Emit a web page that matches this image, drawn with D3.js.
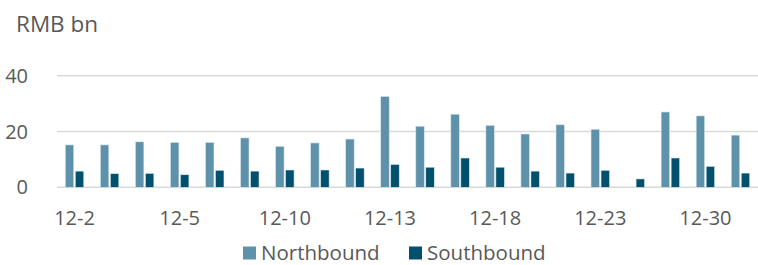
<!DOCTYPE html>
<html>
<head>
<meta charset="utf-8">
<script src="https://cdn.jsdelivr.net/npm/d3@7"></script>
<style>
  body { margin: 0; background: #fff; }
  text { font-family: "Open Sans", sans-serif; fill: #595959; }
</style>
</head>
<body>
<script>
// trading days in December
var days = ["12-2", "12-3", "12-4", "12-5", "12-6", "12-9", "12-10", "12-11", "12-12", "12-13",
            "12-16", "12-17", "12-18", "12-19", "12-20", "12-23", "12-24", "12-27", "12-30", "12-31"];
// RMB bn
var northbound = [15.2, 15.2, 16.3, 16.1, 16.1, 17.7, 14.7, 15.9, 17.3, 32.6,
                  21.9, 26.2, 22.2, 19.1, 22.4, 20.8, null, 27.0, 25.6, 18.7];
var southbound = [5.8, 4.9, 5.0, 4.5, 6.1, 5.8, 6.2, 6.2, 6.9, 8.2,
                  7.2, 10.5, 7.2, 5.8, 5.1, 6.1, 3.0, 10.5, 7.5, 5.1];
var yTicks = [0, 20, 40];
var shownLabels = ["12-2", "12-5", "12-10", "12-13", "12-18", "12-23", "12-30"];
var seriesNames = ["Northbound", "Southbound"];
var colors = ["#5E92AA", "#00506E"];

var w = 758, h = 265;

var svg = d3.select("body").append("svg")
    .attr("width", w)
    .attr("height", h);

var x = d3.scaleBand()
    .domain(days)
    .range([57, 758])
    .paddingInner(0)
    .paddingOuter(0);

var y = d3.scaleLinear()
    .domain([0, 40])
    .range([187.3, 75.7]);

// gridlines
svg.selectAll(".grid")
    .data(yTicks)
    .enter()
    .append("line")
    .attr("class", "grid")
    .attr("x1", 57)
    .attr("x2", 758)
    .attr("y1", function(d){ return y(d); })
    .attr("y2", function(d){ return y(d); })
    .style("stroke", "#D9D9D9")
    .style("stroke-width", 1.5);

// y tick labels
svg.selectAll(".ylab")
    .data(yTicks)
    .enter()
    .append("text")
    .attr("class", "ylab")
    .attr("text-anchor", "end")
    .attr("x", 28)
    .attr("y", function(d){ return y(d) + 7; })
    .style("font-size", "20px")
    .text(function(d){ return d; });

svg.append("text")
    .attr("x", 16)
    .attr("y", 31.5)
    .style("font-size", "22.5px")
    .text("RMB bn");

var barW = 8.5, gap = 1.5;

var pairs = days.map(function(d, i){
    return { day: d, n: northbound[i], s: southbound[i] };
});

// northbound bars
svg.selectAll(".nb")
    .data(pairs.filter(function(d){ return d.n != null; }))
    .enter()
    .append("rect")
    .attr("class", "nb")
    .attr("x", function(d){ return x(d.day) + x.bandwidth() / 2 - barW - gap / 2; })
    .attr("y", function(d){ return y(d.n); })
    .attr("width", barW)
    .attr("height", function(d){ return y(0) - y(d.n); })
    .style("fill", colors[0])
    .style("stroke", "#DCE8EE")
    .style("stroke-width", 0.6);

// southbound bars
svg.selectAll(".sb")
    .data(pairs)
    .enter()
    .append("rect")
    .attr("class", "sb")
    .attr("x", function(d){ return x(d.day) + x.bandwidth() / 2 + gap / 2; })
    .attr("y", function(d){ return y(d.s); })
    .attr("width", barW)
    .attr("height", function(d){ return y(0) - y(d.s); })
    .style("fill", colors[1])
    .style("stroke", "#DCE8EE")
    .style("stroke-width", 0.6);

// x labels, every third day
svg.selectAll(".xlab")
    .data(shownLabels)
    .enter()
    .append("text")
    .attr("class", "xlab")
    .attr("text-anchor", "middle")
    .attr("x", function(d){ return x(d) + x.bandwidth() / 2; })
    .attr("y", 225)
    .style("font-size", "20px")
    .text(function(d){ return d; });

// legend
var legendX = [243, 409];
var legend = svg.selectAll(".legend")
    .data(seriesNames)
    .enter()
    .append("g")
    .attr("class", "legend")
    .attr("transform", function(d, i){ return "translate(" + legendX[i] + ",246.5)"; });

legend.append("rect")
    .attr("width", 13)
    .attr("height", 13)
    .style("fill", function(d, i){ return colors[i]; });

legend.append("text")
    .attr("x", 18)
    .attr("y", 13)
    .style("font-size", "20.5px")
    .text(function(d){ return d; });
</script>
</body>
</html>
